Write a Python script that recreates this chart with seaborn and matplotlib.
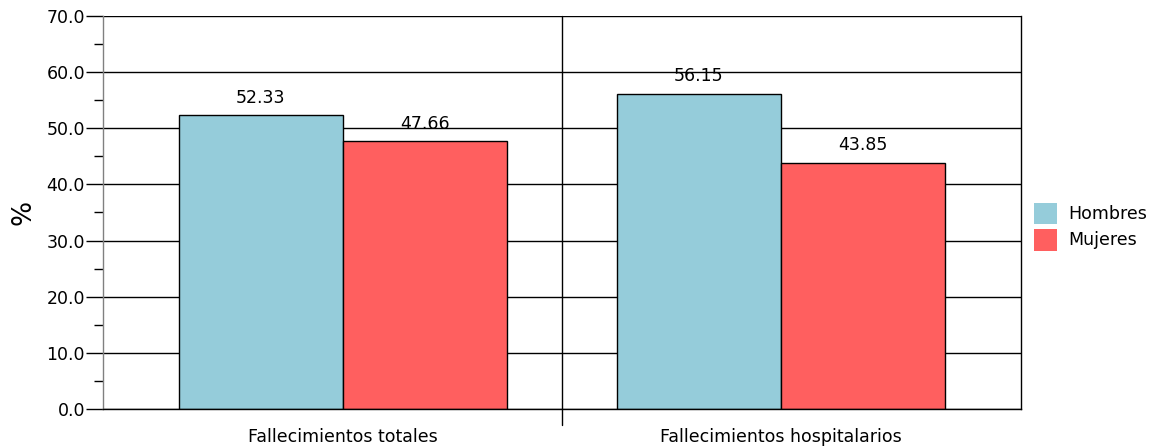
import pandas as pd
import numpy as np
import matplotlib.pyplot as plt
import seaborn as sns
from matplotlib.ticker import MultipleLocator, FormatStrFormatter

# Data
categories = ["Fallecimientos totales", "Fallecimientos hospitalarios"]
hombres = [52.33, 56.15]
mujeres = [47.66, 43.85]
series_names = ["Hombres", "Mujeres"]
colors = ["#95CCDA", "#FF5F5F"]

df = pd.DataFrame({
    "categoria": categories * 2,
    "sexo": [series_names[0]] * 2 + [series_names[1]] * 2,
    "valor": hombres + mujeres,
})

sns.set_style("white")
plt.rcParams["font.family"] = ["DejaVu Sans"]
for k in ["text.color", "axes.labelcolor", "xtick.color", "ytick.color"]:
    plt.rcParams[k] = "black"

W, H = 1153, 448
fig = plt.figure(figsize=(W / 100, H / 100), dpi=100)
ax = fig.add_axes([103 / W, 1 - 409 / H, (1021 - 103) / W, (409 - 16) / H])

sns.barplot(data=df, x="categoria", y="valor", hue="sexo", palette=colors,
            width=0.75, edgecolor="black", linewidth=1, saturation=1, ax=ax)

for cont in ax.containers:
    ax.bar_label(cont, fmt="%.2f", padding=6, fontsize=12.5, color="black")

ax.set_xlim(-0.548, 1.548)
ax.set_ylim(0, 70)
ax.yaxis.set_major_locator(MultipleLocator(10))
ax.yaxis.set_minor_locator(MultipleLocator(5))
ax.yaxis.set_major_formatter(FormatStrFormatter("%.1f"))
ax.tick_params(axis="y", which="major", length=12, width=1, color="black",
               labelsize=12.5, pad=1, left=True)
ax.tick_params(axis="y", which="minor", length=6.5, width=1, color="black", left=True)
ax.tick_params(axis="x", length=0, labelsize=12.5, pad=14)
ax.yaxis.grid(True, which="major", color="black", linewidth=1)
ax.set_axisbelow(True)

ax.set_xlabel("")
ax.set_ylabel("%", fontsize=19, labelpad=7)

ax.spines["top"].set_visible(False)
ax.spines["left"].set_color("#808080")
ax.spines["bottom"].set_color("black")
ax.spines["right"].set_color("black")
for s in ax.spines.values():
    s.set_linewidth(1)

# separator between categories
ax.axvline(0.5, ymin=-0.041, ymax=1, color="black", linewidth=1, clip_on=False)

ax.legend(loc="upper left", bbox_to_anchor=(1.0142, 0.525), frameon=False,
          fontsize=12.5, handlelength=1.3, handleheight=1.55,
          handletextpad=0.65, labelspacing=0.25, borderaxespad=0, borderpad=0)
for p in ax.get_legend().get_patches():
    p.set_edgecolor("none")

fig.savefig("out.png", dpi=100)
